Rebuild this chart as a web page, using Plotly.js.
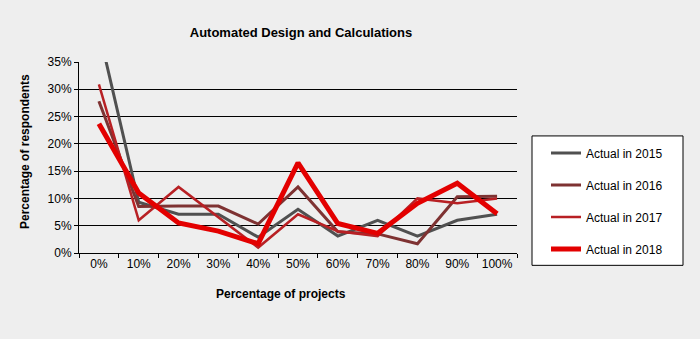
<!DOCTYPE html>
<html>
<head>
<meta charset="utf-8">
<script src="https://cdn.plot.ly/plotly-3.0.1.min.js"></script>
<style>html,body{margin:0;padding:0;background:#eeeeee;}#chart{width:700px;height:339px;}</style>
</head>
<body>
<div id="chart"></div>
<script>
const categories = ["0%", "10%", "20%", "30%", "40%", "50%", "60%", "70%", "80%", "90%", "100%"];
const seriesNames = ["Actual in 2015", "Actual in 2016", "Actual in 2017", "Actual in 2018"];
const actual2015 = [40.7, 9.3, 7.1, 7.1, 2.9, 8.0, 3.1, 6.0, 3.1, 6.0, 7.1];
const actual2016 = [27.8, 8.5, 8.6, 8.6, 5.3, 12.1, 3.9, 3.5, 1.7, 10.3, 10.4];
const actual2017 = [30.9, 6.0, 12.1, 6.5, 1.0, 7.1, 4.0, 3.1, 10.0, 9.1, 10.0];
const actual2018 = [23.7, 11.0, 5.5, 4.0, 1.7, 16.5, 5.4, 3.6, 9.1, 12.8, 7.2];
const yTicks = [0, 5, 10, 15, 20, 25, 30, 35];

const allSeries = [actual2015, actual2016, actual2017, actual2018];
const colors = ["#505050", "#7e3232", "#b82024", "#e30000"];
const widths = [3, 3, 2.5, 5];

const traces = allSeries.map((vals, i) => ({
  type: "scatter",
  mode: "lines",
  x: categories,
  y: vals,
  name: seriesNames[i],
  legendgroup: "g" + i,
  line: {color: colors[i], width: widths[i]},
  hoverinfo: "skip"
}));

const L = 79, R = 517, T = 62.3, B = 252.7;
const pw = R - L, ph = B - T;
const px = x => (x - L) / pw;
const py = y => (B - y) / ph;

const layout = {
  width: 700, height: 339,
  paper_bgcolor: "#eeeeee",
  plot_bgcolor: "#eeeeee",
  font: {family: "Liberation Sans, Arial, sans-serif", size: 12, color: "#000"},
  margin: {l: L, r: 700 - R, t: T, b: 339 - B, pad: 0},
  title: {
    text: "<b>Automated Design and Calculations</b>",
    font: {family: "Liberation Sans, Arial, sans-serif", size: 13, color: "#000"},
    x: 301 / 700, xanchor: "center", xref: "container",
    y: 1 - 32 / 339, yanchor: "middle", yref: "container"
  },
  xaxis: {
    type: "category",
    range: [-0.5, 10.5],
    tickson: "boundaries",
    tickangle: 0,
    ticks: "outside", ticklen: 4, tickcolor: "#000", tickwidth: 1,
    showline: true, linecolor: "#000", linewidth: 1,
    showgrid: false, zeroline: false,
    tickfont: {size: 12},
    fixedrange: true
  },
  yaxis: {
    range: [0, 35],
    tickvals: yTicks,
    ticktext: yTicks.map(v => v + "%"),
    ticks: "outside", ticklen: 4, tickcolor: "#000", tickwidth: 1,
    showline: true, linecolor: "#000", linewidth: 1,
    showgrid: true, gridcolor: "#000", gridwidth: 1,
    zeroline: false,
    tickfont: {size: 12},
    fixedrange: true
  },
  showlegend: true,
  legend: {
    x: px(546), xanchor: "left",
    y: py(138.5), yanchor: "top",
    bgcolor: "rgba(0,0,0,0)",
    borderwidth: 0,
    traceorder: "grouped",
    tracegroupgap: 13,
    font: {size: 12},
    itemwidth: 30
  },
  shapes: [{
    type: "rect", xref: "paper", yref: "paper",
    x0: px(532), x1: px(683), y0: py(265), y1: py(136),
    fillcolor: "#ffffff", line: {color: "#000", width: 1}, layer: "below"
  }],
  annotations: [
    {
      text: "<b>Percentage of respondents</b>",
      xref: "paper", yref: "paper",
      x: px(25), y: py(152), xanchor: "center", yanchor: "middle",
      textangle: -90, showarrow: false, font: {size: 12}
    },
    {
      text: "<b>Percentage of projects</b>",
      xref: "paper", yref: "paper",
      x: px(281), y: py(294), xanchor: "center", yanchor: "middle",
      showarrow: false, font: {size: 12}
    }
  ]
};

Plotly.newPlot("chart", traces, layout, {displayModeBar: false, staticPlot: true});
</script>
</body>
</html>
